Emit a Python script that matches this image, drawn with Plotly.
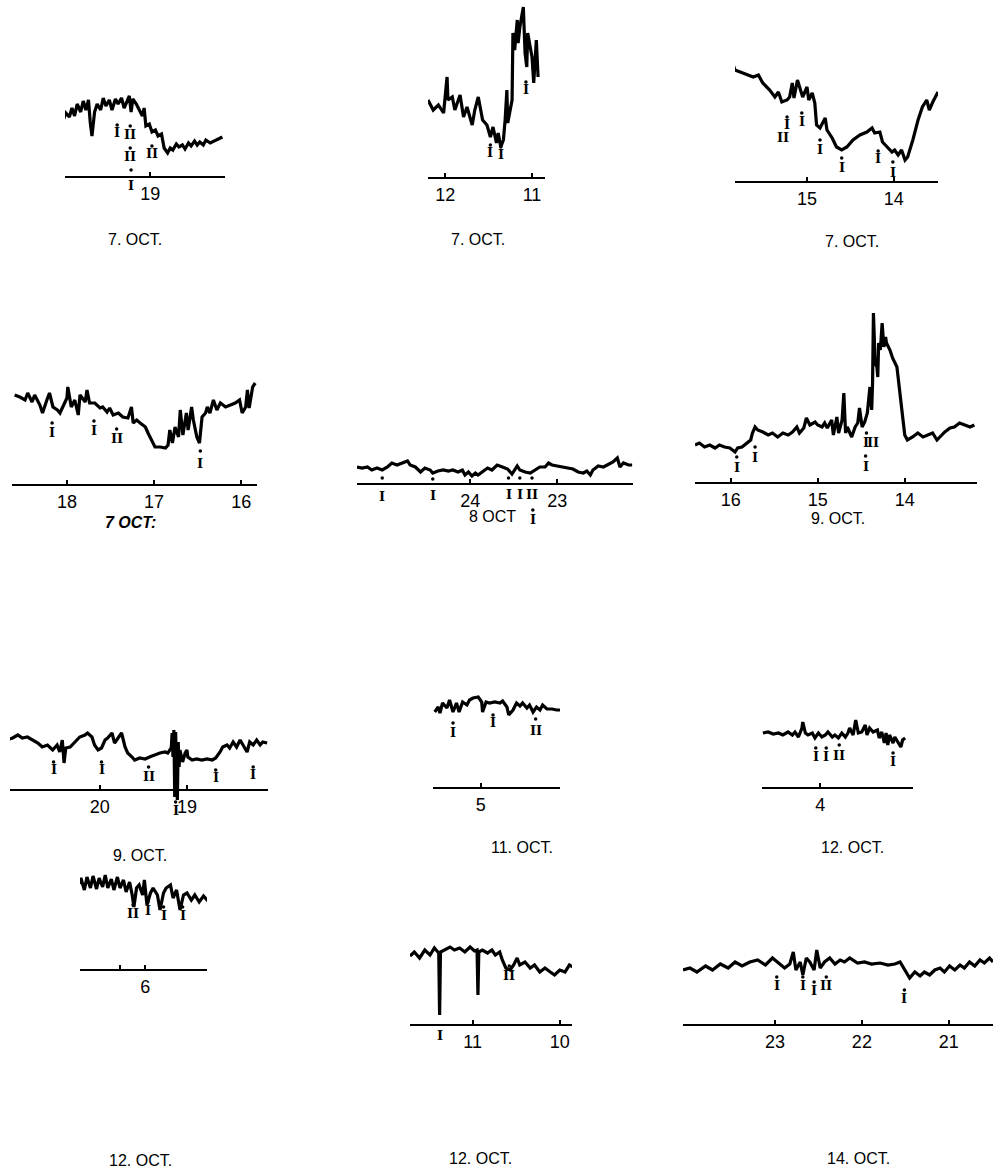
import plotly.graph_objects as go

# ---- recorded traces: time (hours, axis runs backwards) and pen deflection ----
P1_HOURS = [20.00, 19.97, 19.93, 19.90, 19.87, 19.84, 19.80, 19.77, 19.74, 19.71, 19.69, 19.67, 19.64, 19.61,
            19.57, 19.54, 19.51, 19.47, 19.44, 19.40, 19.37, 19.33, 19.30, 19.26, 19.24, 19.22, 19.20, 19.16,
            19.13, 19.09, 19.07, 19.05, 19.01, 18.98, 18.94, 18.91, 18.87, 18.84, 18.80, 18.77, 18.74, 18.70,
            18.67, 18.63, 18.60, 18.56, 18.53, 18.49, 18.46, 18.43, 18.39, 18.36, 18.31, 18.26, 18.22, 18.17]
P1_LEVEL = [57, 64, 60, 69, 61, 73, 65, 76, 67, 77, 55, 41, 65, 73, 67, 79, 71, 77, 67, 78, 73, 79, 69, 77,
            81, 65, 78, 73, 67, 61, 69, 51, 53, 45, 47, 41, 43, 29, 24, 29, 27, 33, 30, 32, 28, 34, 31, 36,
            32, 35, 32, 37, 34, 36, 38, 40]

P2_HOURS = [12.20, 12.14, 12.08, 12.02, 11.98, 11.97, 11.92, 11.89, 11.83, 11.79, 11.75, 11.69, 11.66, 11.62,
            11.57, 11.52, 11.48, 11.45, 11.41, 11.39, 11.36, 11.33, 11.31, 11.29, 11.28, 11.25, 11.23, 11.22,
            11.20, 11.17, 11.16, 11.14, 11.10, 11.08, 11.06, 11.05, 11.00, 10.98, 10.95, 10.93]
P2_LEVEL = [78, 68, 73, 65, 101, 78, 81, 68, 83, 61, 71, 53, 68, 81, 58, 53, 41, 51, 35, 45, 31, 38, 58, 88,
            55, 68, 78, 145, 128, 158, 135, 151, 171, 125, 111, 145, 121, 95, 138, 101]

P3_HOURS = [15.85, 15.83, 15.77, 15.69, 15.62, 15.56, 15.51, 15.43, 15.37, 15.33, 15.29, 15.23, 15.20, 15.17,
            15.15, 15.11, 15.08, 15.05, 15.00, 14.98, 14.94, 14.91, 14.89, 14.85, 14.79, 14.77, 14.71, 14.66,
            14.60, 14.54, 14.47, 14.39, 14.31, 14.25, 14.22, 14.16, 14.13, 14.07, 14.02, 13.99, 13.95, 13.91,
            13.87, 13.84, 13.78, 13.72, 13.67, 13.62, 13.59, 13.55, 13.49]
P3_LEVEL = [117, 112, 110, 107, 105, 107, 99, 92, 85, 90, 80, 82, 85, 99, 84, 102, 92, 85, 95, 82, 89, 79, 57,
            54, 64, 52, 44, 35, 32, 35, 42, 47, 50, 54, 49, 50, 40, 35, 30, 32, 27, 32, 22, 25, 42, 62, 75,
            82, 72, 80, 90]

P4_HOURS = [18.60, 18.54, 18.48, 18.45, 18.40, 18.37, 18.31, 18.28, 18.23, 18.20, 18.16, 18.11, 18.08, 18.05,
            18.00, 17.99, 17.95, 17.91, 17.87, 17.85, 17.79, 17.77, 17.74, 17.68, 17.62, 17.59, 17.54, 17.51,
            17.47, 17.41, 17.36, 17.30, 17.26, 17.24, 17.20, 17.16, 17.10, 17.07, 17.02, 16.99, 16.93, 16.87,
            16.84, 16.82, 16.79, 16.76, 16.72, 16.70, 16.67, 16.63, 16.61, 16.57, 16.55, 16.51, 16.48, 16.45,
            16.41, 16.39, 16.36, 16.32, 16.28, 16.24, 16.18, 16.13, 16.07, 16.02, 15.99, 15.95, 15.93, 15.91,
            15.87, 15.84]
P4_LEVEL = [90, 88, 85, 92, 83, 90, 80, 72, 85, 92, 78, 75, 72, 78, 87, 98, 78, 85, 70, 90, 83, 95, 82, 82,
            77, 78, 73, 77, 70, 72, 68, 67, 78, 62, 65, 62, 58, 52, 43, 38, 38, 37, 40, 55, 42, 58, 48, 75,
            50, 72, 55, 78, 65, 48, 42, 68, 72, 78, 72, 85, 75, 82, 78, 80, 82, 85, 72, 78, 95, 77, 98, 102]

P5_HOURS = [25.30, 25.24, 25.18, 25.13, 25.07, 25.01, 24.95, 24.90, 24.84, 24.78, 24.72, 24.69, 24.63, 24.57,
            24.52, 24.46, 24.43, 24.37, 24.31, 24.25, 24.20, 24.14, 24.09, 24.06, 24.02, 23.98, 23.94, 23.91,
            23.86, 23.80, 23.75, 23.69, 23.63, 23.57, 23.52, 23.46, 23.43, 23.37, 23.31, 23.25, 23.20, 23.14,
            23.10, 23.06, 23.00, 22.94, 22.89, 22.82, 22.76, 22.70, 22.66, 22.62, 22.59, 22.53, 22.47, 22.41,
            22.36, 22.31, 22.28, 22.24, 22.18, 22.14]
P5_LEVEL = [17, 16, 17, 14, 16, 14, 17, 21, 19, 21, 23, 19, 17, 12, 16, 14, 11, 13, 14, 13, 14, 12, 14, 9,
            12, 8, 11, 9, 12, 16, 14, 19, 17, 15, 10, 18, 14, 12, 11, 14, 17, 17, 21, 19, 18, 17, 16, 15,
            12, 11, 13, 9, 14, 18, 17, 20, 22, 26, 17, 21, 19, 19]

P6_HOURS = [16.41, 16.36, 16.30, 16.24, 16.18, 16.13, 16.07, 16.01, 15.95, 15.92, 15.87, 15.82, 15.77, 15.75,
            15.72, 15.69, 15.63, 15.57, 15.52, 15.46, 15.40, 15.34, 15.29, 15.24, 15.21, 15.16, 15.13, 15.09,
            15.03, 15.00, 14.95, 14.92, 14.89, 14.84, 14.82, 14.78, 14.76, 14.72, 14.70, 14.68, 14.66, 14.61,
            14.57, 14.54, 14.52, 14.49, 14.46, 14.43, 14.40, 14.38, 14.37, 14.36, 14.34, 14.32, 14.31, 14.30,
            14.28, 14.26, 14.24, 14.22, 14.21, 14.17, 14.14, 14.09, 14.06, 14.02, 14.00, 13.97, 13.91, 13.85,
            13.79, 13.74, 13.68, 13.63, 13.60, 13.54, 13.48, 13.43, 13.37, 13.31, 13.25, 13.20]
P6_LEVEL = [38, 40, 36, 38, 35, 38, 36, 35, 31, 35, 36, 40, 43, 50, 56, 53, 51, 48, 50, 46, 50, 48, 51, 56,
            50, 55, 65, 58, 61, 58, 56, 60, 55, 63, 48, 66, 50, 63, 90, 50, 56, 46, 56, 60, 75, 56, 61, 70,
            96, 73, 100, 170, 120, 116, 106, 140, 133, 160, 136, 146, 140, 133, 125, 116, 90, 63, 48, 43, 46,
            50, 46, 48, 50, 43, 46, 51, 55, 56, 60, 58, 56, 58]

P7_HOURS = [21.07, 21.00, 20.94, 20.89, 20.83, 20.77, 20.71, 20.66, 20.60, 20.54, 20.49, 20.46, 20.43, 20.41,
            20.39, 20.34, 20.29, 20.23, 20.17, 20.14, 20.09, 20.06, 20.02, 19.98, 19.94, 19.91, 19.86, 19.83,
            19.79, 19.75, 19.71, 19.68, 19.63, 19.60, 19.54, 19.48, 19.43, 19.37, 19.31, 19.25, 19.22, 19.18,
            19.17, 19.16, 19.15, 19.14, 19.13, 19.11, 19.10, 19.09, 19.08, 19.05, 19.02, 19.00, 18.99, 18.94,
            18.89, 18.83, 18.77, 18.71, 18.67, 18.62, 18.59, 18.54, 18.51, 18.47, 18.43, 18.39, 18.36, 18.31,
            18.28, 18.24, 18.20, 18.16, 18.13, 18.08]
P7_LEVEL = [50, 52, 55, 52, 53, 50, 47, 43, 45, 40, 45, 38, 50, 27, 42, 43, 48, 53, 55, 57, 53, 45, 40, 42,
            50, 52, 57, 47, 52, 57, 43, 37, 33, 30, 32, 31, 33, 35, 37, 38, 37, 42, 57, 33, 60, -7, 58, -10,
            48, 23, 40, 28, 37, 40, 33, 30, 31, 30, 31, 30, 32, 38, 43, 45, 42, 48, 43, 50, 45, 38, 48, 45,
            50, 45, 48, 47]

P8_HOURS = [5.53, 5.49, 5.47, 5.44, 5.39, 5.36, 5.32, 5.28, 5.25, 5.21, 5.16, 5.13, 5.09, 5.03, 4.99, 4.98,
            4.94, 4.90, 4.84, 4.78, 4.75, 4.70, 4.68, 4.63, 4.59, 4.55, 4.52, 4.47, 4.44, 4.40, 4.36, 4.32,
            4.29, 4.24, 4.18, 4.13, 4.07]
P8_LEVEL = [76, 81, 75, 85, 80, 88, 76, 85, 76, 86, 83, 88, 90, 91, 86, 76, 86, 85, 86, 85, 87, 81, 73, 78,
            85, 82, 85, 80, 83, 76, 81, 78, 83, 79, 79, 78, 78]

P9_HOURS = [4.66, 4.60, 4.54, 4.48, 4.43, 4.37, 4.32, 4.29, 4.25, 4.21, 4.20, 4.17, 4.14, 4.09, 4.06, 4.02,
            3.98, 3.94, 3.91, 3.86, 3.83, 3.79, 3.75, 3.71, 3.68, 3.66, 3.62, 3.59, 3.56, 3.52, 3.48, 3.46,
            3.43, 3.39, 3.34, 3.32, 3.29, 3.26, 3.24, 3.22, 3.20, 3.16, 3.14, 3.10, 3.07, 3.05, 3.02]
P9_LEVEL = [55, 56, 54, 55, 53, 56, 53, 56, 51, 60, 66, 55, 53, 55, 50, 55, 51, 53, 56, 51, 53, 50, 55, 51,
            55, 60, 53, 68, 55, 56, 63, 53, 60, 56, 58, 50, 56, 45, 55, 43, 53, 45, 51, 45, 41, 48, 50]

P10_HOURS = [6.77, 6.74, 6.70, 6.67, 6.63, 6.60, 6.56, 6.53, 6.49, 6.46, 6.43, 6.39, 6.36, 6.32, 6.29, 6.25,
             6.22, 6.18, 6.15, 6.13, 6.10, 6.07, 6.03, 6.01, 5.98, 5.94, 5.91, 5.86, 5.83, 5.79, 5.76, 5.71,
             5.68, 5.64, 5.60, 5.56, 5.52, 5.47, 5.43, 5.38, 5.33, 5.29, 5.25]
P10_LEVEL = [85, 92, 80, 93, 82, 94, 81, 92, 83, 95, 82, 91, 80, 93, 82, 90, 78, 88, 75, 63, 82, 85, 75, 90,
             65, 77, 82, 75, 60, 77, 82, 85, 72, 80, 60, 75, 77, 70, 75, 68, 74, 70, 72]

P11_HOURS = [11.72, 11.67, 11.61, 11.55, 11.49, 11.44, 11.39, 11.38, 11.37, 11.32, 11.26, 11.21, 11.15, 11.09,
             11.03, 10.98, 10.95, 10.94, 10.93, 10.89, 10.83, 10.78, 10.74, 10.69, 10.66, 10.62, 10.57, 10.53,
             10.49, 10.46, 10.40, 10.34, 10.29, 10.23, 10.17, 10.11, 10.06, 10.00, 9.94, 9.89, 9.83]
P11_LEVEL = [69, 73, 67, 75, 70, 77, 72, 10, 73, 75, 78, 75, 77, 73, 78, 74, 75, 30, 73, 75, 72, 75, 70, 73,
             65, 57, 55, 60, 67, 60, 63, 57, 60, 53, 57, 53, 50, 55, 53, 60, 57]

P12_HOURS = [24.06, 23.98, 23.90, 23.80, 23.72, 23.63, 23.54, 23.46, 23.38, 23.29, 23.20, 23.11, 23.03, 22.97,
             22.89, 22.83, 22.79, 22.76, 22.71, 22.68, 22.64, 22.60, 22.55, 22.52, 22.48, 22.43, 22.37, 22.31,
             22.25, 22.20, 22.14, 22.05, 21.97, 21.89, 21.79, 21.70, 21.62, 21.56, 21.51, 21.45, 21.39, 21.33,
             21.28, 21.22, 21.16, 21.10, 21.05, 20.99, 20.93, 20.87, 20.82, 20.76, 20.70, 20.64, 20.59, 20.53,
             20.49]
P12_LEVEL = [55, 57, 53, 59, 55, 61, 57, 63, 59, 63, 65, 60, 67, 63, 57, 61, 73, 55, 63, 50, 67, 63, 55, 75,
             57, 63, 67, 61, 65, 63, 67, 62, 63, 61, 62, 60, 61, 63, 55, 47, 53, 49, 53, 50, 55, 57, 53, 59,
             55, 60, 57, 63, 59, 65, 62, 67, 63]

# ---- event marks: (hour, dot level or None, label level, numeral) ----
P1_EVENTS = [(19.38, 52, 44, "I"), (19.23, 51, 42, "II"), (19.23, 29, 20, "II"), (19.22, 7, -9, "I"),
             (18.98, 31, 23, "II")]
P2_EVENTS = [(11.48, 33, 25, "I"), (11.36, 31, 23, "I"), (11.07, 96, 88, "I")]
P3_EVENTS = [(15.28, None, 44, "II"), (15.23, 65, 57, "I"), (15.06, 69, 60, "I"), (14.85, 42, 32, "I"),
             (14.60, 24, 14, "I"), (14.18, 31, 23, "I"), (14.01, 20, 9, "I")]
P4_EVENTS = [(18.17, 62, 53, "I"), (17.69, 64, 55, "I"), (17.43, 56, 47, "II"), (16.47, 34, 22, "I")]
P5_EVENTS = [(25.01, 6, -12, "I"), (24.43, 5, -11, "I"), (23.56, 6, -10, "I"), (23.43, 6, -10, "I"),
             (23.29, 6, -10, "II"), (23.28, -26, -35, "I")]
P6_EVENTS = [(15.93, 26, 16, "I"), (15.72, 36, 26, "I"), (14.44, 50, 41, "I"), (14.37, None, 41, "II"),
             (14.45, 27, 17, "I")]
P7_EVENTS = [(20.53, 28, 20, "I"), (19.98, 28, 20, "I"), (19.44, 23, 13, "II"), (18.67, 20, 12, "I"),
             (18.24, 23, 15, "I"), (19.13, -12, -21, "I")]
P8_EVENTS = [(5.32, 65, 56, "I"), (4.86, 73, 66, "I"), (4.37, 69, 58, "II")]
P9_EVENTS = [(4.05, 40, 32, "I"), (3.93, 40, 32, "I"), (3.78, 43, 33, "II"), (3.16, 35, 27, "I")]
P10_EVENTS = [(6.14, 65, 56, "II"), (5.97, 68, 59, "I"), (5.79, 63, 54, "I"), (5.57, 63, 54, "I")]
P11_EVENTS = [(11.38, None, -10, "I"), (10.58, 59, 50, "II")]
P12_EVENTS = [(22.98, 48, 40, "I"), (22.68, 48, 40, "I"), (22.55, 43, 35, "I"), (22.41, 48, 40, "II"),
              (21.51, 35, 27, "I")]

# ---- hour ticks of each time axis ----
P1_TICKS, P1_TICKTEXT = [19], ["19"]
P2_TICKS, P2_TICKTEXT = [12, 11], ["12", "11"]
P3_TICKS, P3_TICKTEXT = [15, 14], ["15", "14"]
P4_TICKS, P4_TICKTEXT = [18, 17, 16], ["18", "17", "16"]
P5_TICKS, P5_TICKTEXT = [24, 23], ["24", "23"]
P6_TICKS, P6_TICKTEXT = [16, 15, 14], ["16", "15", "14"]
P7_TICKS, P7_TICKTEXT = [20, 19], ["20", "19"]
P8_TICKS, P8_TICKTEXT = [5], ["5"]
P9_TICKS, P9_TICKTEXT = [4], ["4"]
P10_TICKS, P10_TICKTEXT = [6.29, 6], ["", "6"]
P11_TICKS, P11_TICKTEXT = [11, 10], ["11", "10"]
P12_TICKS, P12_TICKTEXT = [23, 22, 21], ["23", "22", "21"]

DATES = ["7. OCT.", "7. OCT.", "7. OCT.", "<i><b>7 OCT:</b></i>", "8 OCT", "9. OCT.",
         "9. OCT.", "11. OCT.", "12. OCT.", "12. OCT.", "12. OCT.", "14. OCT."]

# ---- page geometry (pixels) ----
W, H = 999, 1171
# axis line: left px, right px, baseline px, hour at left, hour at right, date label x px, y px
PANELS = [
    (65, 225, 177, 19.98, 18.14, 135, 240),
    (428, 545, 178, 12.20, 10.85, 478, 240),
    (735, 938, 182, 15.83, 13.49, 852, 242),
    (12, 257, 485, 18.63, 15.82, 130, 522),
    (357, 633, 484, 25.30, 22.13, 492, 516),
    (695, 977, 483, 16.41, 13.17, 838, 518),
    (10, 268, 790, 21.03, 18.07, 140, 855),
    (433, 560, 788, 5.55, 4.09, 522, 847),
    (762, 913, 788, 4.67, 2.93, 852, 847),
    (80, 207, 970, 6.75, 5.29, 140, 1160),
    (410, 572, 1025, 11.72, 9.86, 480, 1158),
    (683, 993, 1025, 24.06, 20.49, 858, 1158),
]

SERIES = [
    (P1_HOURS, P1_LEVEL, P1_EVENTS, P1_TICKS, P1_TICKTEXT),
    (P2_HOURS, P2_LEVEL, P2_EVENTS, P2_TICKS, P2_TICKTEXT),
    (P3_HOURS, P3_LEVEL, P3_EVENTS, P3_TICKS, P3_TICKTEXT),
    (P4_HOURS, P4_LEVEL, P4_EVENTS, P4_TICKS, P4_TICKTEXT),
    (P5_HOURS, P5_LEVEL, P5_EVENTS, P5_TICKS, P5_TICKTEXT),
    (P6_HOURS, P6_LEVEL, P6_EVENTS, P6_TICKS, P6_TICKTEXT),
    (P7_HOURS, P7_LEVEL, P7_EVENTS, P7_TICKS, P7_TICKTEXT),
    (P8_HOURS, P8_LEVEL, P8_EVENTS, P8_TICKS, P8_TICKTEXT),
    (P9_HOURS, P9_LEVEL, P9_EVENTS, P9_TICKS, P9_TICKTEXT),
    (P10_HOURS, P10_LEVEL, P10_EVENTS, P10_TICKS, P10_TICKTEXT),
    (P11_HOURS, P11_LEVEL, P11_EVENTS, P11_TICKS, P11_TICKTEXT),
    (P12_HOURS, P12_LEVEL, P12_EVENTS, P12_TICKS, P12_TICKTEXT),
]

Y_BELOW, Y_ABOVE = 45, 175  # deflection units shown below / above the baseline (1 unit = 1 px)

fig = go.Figure()
layout = dict(width=W, height=H, margin=dict(l=0, r=0, t=0, b=0),
              paper_bgcolor="white", plot_bgcolor="rgba(0,0,0,0)", showlegend=False)
annotations = []

for i, ((left, right, base, h_left, h_right, dx, dy), (hours, level, events, ticks, ticktext)) in \
        enumerate(zip(PANELS, SERIES), start=1):
    xa = "xaxis" if i == 1 else f"xaxis{i}"
    ya = "yaxis" if i == 1 else f"yaxis{i}"
    xr = "x" if i == 1 else f"x{i}"
    yr = "y" if i == 1 else f"y{i}"
    y0 = max(0.0, (H - base - Y_BELOW) / H)
    y1 = min(1.0, (H - base + Y_ABOVE) / H)
    # keep 1 deflection unit = 1 px
    lo = -((H - base) - y0 * H)
    hi = y1 * H - (H - base)
    layout[xa] = dict(domain=[left / W, right / W], range=[h_left, h_right], anchor="free",
                      position=(H - base) / H, showline=True, linecolor="black", linewidth=2,
                      showgrid=False, zeroline=False, ticks="inside", ticklen=4, tickwidth=2,
                      tickcolor="black", tickvals=ticks, ticktext=ticktext,
                      tickfont=dict(family="Liberation Sans", size=18, color="black"))
    layout[ya] = dict(domain=[y0, y1], range=[lo, hi], anchor=xr, visible=False,
                      showgrid=False, zeroline=False)

    fig.add_trace(go.Scatter(x=hours, y=level, xaxis=xr, yaxis=yr, mode="lines",
                             line=dict(color="black", width=3.2, shape="linear"),
                             hoverinfo="skip"))
    dots = [(e[0], e[1]) for e in events if e[1] is not None]
    if dots:
        fig.add_trace(go.Scatter(x=[d[0] for d in dots], y=[d[1] for d in dots], xaxis=xr, yaxis=yr,
                                 mode="markers", cliponaxis=False,
                                 marker=dict(color="black", size=3.5), hoverinfo="skip"))
    for h, _, lab_y, txt in events:
        annotations.append(dict(x=h, y=lab_y, xref=xr, yref=yr, text=f"<b>{txt}</b>",
                                xanchor="center", yanchor="middle", showarrow=False,
                                font=dict(family="DejaVu Serif", size=13, color="black")))
    annotations.append(dict(x=dx / W, y=1 - dy / H, xref="paper", yref="paper", text=DATES[i - 1],
                            xanchor="center", yanchor="middle", showarrow=False,
                            font=dict(family="Liberation Sans", size=16, color="black")))

layout["annotations"] = annotations
fig.update_layout(**layout)
fig.write_html("out.html")
